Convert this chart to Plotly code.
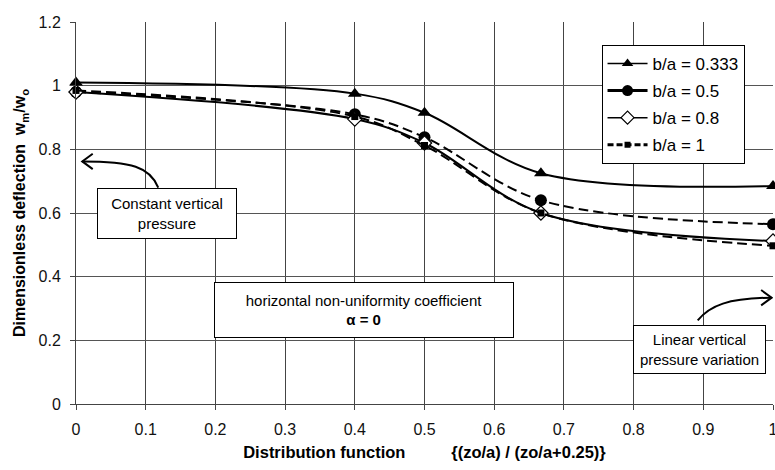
import plotly.graph_objects as go

# ---- data ----
x_vals = [0.0, 0.4, 0.5, 0.667, 1.0]
y_b0333 = [1.01, 0.975, 0.915, 0.725, 0.685]
y_b05 = [0.98, 0.91, 0.838, 0.64, 0.565]
y_b08 = [0.98, 0.895, 0.82, 0.60, 0.512]
y_b1 = [0.985, 0.903, 0.812, 0.60, 0.497]
names = ["b/a = 0.333", "b/a = 0.5", "b/a = 0.8", "b/a = 1"]
x_ticks = [0, 0.1, 0.2, 0.3, 0.4, 0.5, 0.6, 0.7, 0.8, 0.9, 1]
y_ticks = [0, 0.2, 0.4, 0.6, 0.8, 1.0, 1.2]

FONT = "Liberation Sans, Arial, sans-serif"

fig = go.Figure()

# plotted curves (as drawn in the chart area)
plot_styles = [
    dict(line=dict(color="black", width=2, dash="solid", shape="spline"),
         marker=dict(symbol="triangle-up", size=12, color="black")),
    dict(line=dict(color="black", width=2, dash="10px,5px", shape="spline"),
         marker=dict(symbol="circle", size=12, color="black")),
    dict(line=dict(color="black", width=2, dash="solid", shape="spline"),
         marker=dict(symbol="diamond", size=11, color="white", line=dict(color="black", width=1.2))),
    dict(line=dict(color="black", width=2, dash="10px,5px", shape="spline"),
         marker=dict(symbol="square", size=7, color="black")),
]
series = [y_b0333, y_b05, y_b08, y_b1]
for ys, st in zip(series, plot_styles):
    fig.add_trace(go.Scatter(x=x_vals, y=ys, mode="lines+markers", showlegend=False,
                             cliponaxis=False, **st))

# legend entries (as shown in the legend box)
leg_styles = [
    dict(line=dict(color="black", width=1.5), marker=dict(symbol="triangle-up", size=10, color="black")),
    dict(line=dict(color="black", width=3), marker=dict(symbol="circle", size=11, color="black")),
    dict(line=dict(color="black", width=1.5), marker=dict(symbol="diamond", size=10, color="white", line=dict(color="black", width=1.2))),
    dict(line=dict(color="black", width=3, dash="6px,3px"), marker=dict(symbol="square", size=6, color="black")),
]
for i, (nm, st) in enumerate(zip(names, leg_styles)):
    fig.add_trace(go.Scatter(x=[None], y=[None], mode="lines+markers", name=nm,
                             legendgroup=f"g{i}", **st))

# annotations: boxes
box_font = dict(family=FONT, size=15, color="black")
fig.add_annotation(x=0.1306, y=0.597, xref="x", yref="y", showarrow=False,
                   text="Constant vertical<br>pressure", font=box_font,
                   bgcolor="white", bordercolor="black", borderwidth=1, borderpad=2,
                   width=134, height=45)
fig.add_annotation(x=0.413, y=0.295, xref="x", yref="y", showarrow=False,
                   text="horizontal non-uniformity coefficient<br><b>α = 0</b>", font=box_font,
                   bgcolor="white", bordercolor="black", borderwidth=1, borderpad=2,
                   width=294, height=50)
fig.add_annotation(x=0.8945, y=0.172, xref="x", yref="y", showarrow=False,
                   text="Linear vertical<br>pressure variation", font=box_font,
                   bgcolor="white", bordercolor="black", borderwidth=1, borderpad=2,
                   width=127, height=43)

# curved arrows with open arrowheads
arrow_line = dict(color="black", width=2)
fig.add_shape(type="path", xref="x", yref="y",
              path="M 0.118,0.68 C 0.106,0.745 0.08,0.762 0.009,0.762",
              line=arrow_line)
fig.add_shape(type="path", xref="x", yref="y",
              path="M 0.024,0.786 L 0.009,0.762 L 0.024,0.738",
              line=arrow_line)
fig.add_shape(type="path", xref="x", yref="y",
              path="M 0.892,0.263 C 0.91,0.31 0.935,0.332 0.998,0.334",
              line=arrow_line)
fig.add_shape(type="path", xref="x", yref="y",
              path="M 0.983,0.358 L 0.998,0.334 L 0.983,0.310",
              line=arrow_line)

xtitle = ("<b>Distribution function" + "&nbsp;" * 10 +
          "{(zo/a) / (zo/a+0.25)}</b>")

fig.update_layout(
    width=775, height=470,
    margin=dict(l=76, r=2, t=22, b=66, autoexpand=False),
    paper_bgcolor="white", plot_bgcolor="white",
    font=dict(family=FONT, size=16, color="#111"),
    legend=dict(x=0.754, y=0.94, xanchor="left", yanchor="top",
                bgcolor="white", bordercolor="black", borderwidth=1,
                font=dict(family=FONT, size=17, color="black"),
                tracegroupgap=2, itemwidth=40),
    xaxis=dict(range=[0, 1], tickvals=x_ticks, showgrid=True, gridcolor="#444", gridwidth=1,
               showline=True, linecolor="#444", linewidth=1, ticks="outside", ticklen=5,
               tickcolor="#444", zeroline=False, ticklabelstandoff=6, automargin=False,
               ticklabeloverflow="allow",
               tickfont=dict(size=16),
               title=dict(text=xtitle, font=dict(size=16.5, color="black"), standoff=9)),
    yaxis=dict(range=[0, 1.2], tickvals=y_ticks, showgrid=True, gridcolor="#555", gridwidth=1,
               showline=True, linecolor="#444", linewidth=1, ticks="outside", ticklen=5,
               tickcolor="#444", zeroline=False, ticklabelstandoff=6, automargin=False,
               tickfont=dict(size=16),
               title=dict(text="<b>Dimensionless deflection  w<sub>m</sub>/w<sub>o</sub></b>",
                          font=dict(size=16, color="black"), standoff=8)),
)

fig.write_html("out.html", config={"displayModeBar": False},
               post_script="document.body.style.margin='0px';")
